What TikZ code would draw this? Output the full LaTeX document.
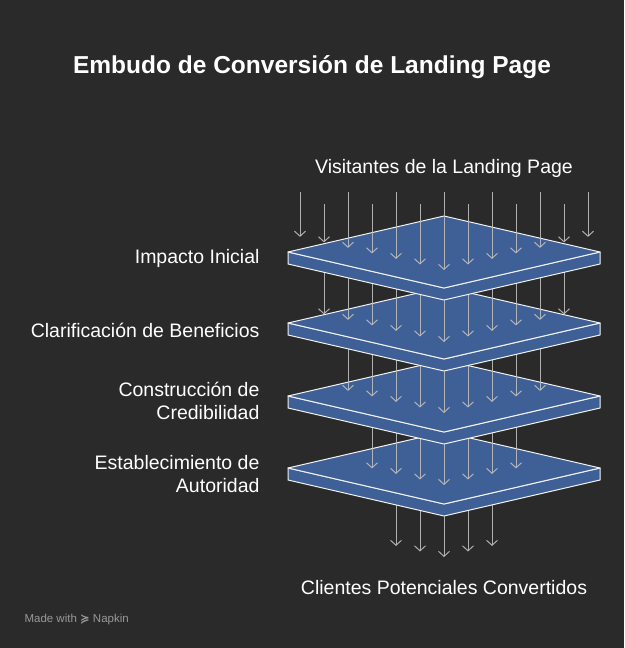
\documentclass[tikz,border=0pt]{standalone}
\usepackage{fontspec}
\setmainfont{Liberation Sans}
\newfontfamily\djv{DejaVu Sans}
\usetikzlibrary{arrows.meta}
\definecolor{bg}{HTML}{2A2A2A}
\definecolor{plate}{HTML}{3F6096}
\definecolor{arr}{HTML}{BDBDBD}
\tikzset{
 flow/.style={draw=arr,line width=1pt,-{Straight Barb[length=5pt,width=11pt]},opacity=0.9},
 lbl/.style={text=white,font=\fontsize{19.5}{23}\selectfont,align=right,anchor=east},
 plateface/.style={fill=plate,draw=white!90!gray,line width=1pt,line join=round}
}
\newcommand{\plate}[1]{%
 \path[plateface] (288,#1) -- (288,#1+12) -- (444,#1+48) -- (600,#1+12) -- (600,#1) -- (444,#1+36) -- cycle;
 \path[plateface] (288,#1) -- (444,#1-36) -- (600,#1) -- (444,#1+36) -- cycle;}
\newcommand{\arrows}[4]{% xmin, xmax, start y, end base
 \foreach \x in {#1,...,#2}{%
  \pgfmathsetmacro{\yy}{#4-0.23*abs(\x*24+300-444)}%
  \draw[flow] (\x*24+300,#3) -- (\x*24+300,\yy);}}
\begin{document}
\begin{tikzpicture}[x=1pt,y=-1pt]
\fill[bg] (0,0) rectangle (624,648);
\useasboundingbox (0,0) rectangle (624,648);
\node[text=white,font=\bfseries\fontsize{24.5}{28}\selectfont] (title) at (312,67) {Embudo de Conversión de Landing Page};
\node[text=white,font=\fontsize{19.5}{23}\selectfont] (top) at (444,168) {Visitantes de la Landing Page};
\node[text=white,font=\fontsize{19.5}{23}\selectfont] (bot) at (444,588) {Clientes Potenciales Convertidos};
\node[lbl] (l1) at (263,258) {Impacto Inicial};
\node[lbl] (l2) at (263,330) {Clarificación de Beneficios};
\node[lbl] (l3) at (263,401) {Construcción de\\Credibilidad};
\node[lbl] (l4) at (263,474) {Establecimiento de\\Autoridad};
\node[text=gray!80,font=\fontsize{11.5}{13}\selectfont,anchor=west] (mw) at (21,620) {Made with {\djv\bfseries ≽} Napkin};
% bottom up
\arrows{4}{8}{480}{557}
\plate{468}
\arrows{3}{9}{410}{485}
\plate{396}
\arrows{2}{10}{335}{413}
\plate{323}
\arrows{1}{11}{262}{342}
\plate{252}
\foreach \i in {0,...,12}{%
 \pgfmathsetmacro{\xx}{\i*24+300}%
 \pgfmathsetmacro{\ys}{ifthenelse(mod(\i,2)==0,192,204)}%
 \pgfmathsetmacro{\yy}{270-0.23*abs(\xx-444)}%
 \draw[flow] (\xx,\ys) -- (\xx,\yy);}
\end{tikzpicture}
\end{document}
